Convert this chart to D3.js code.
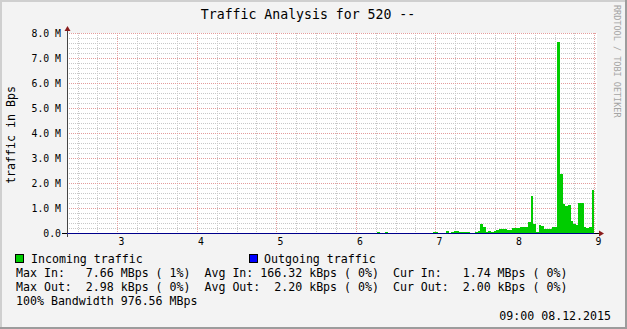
<!DOCTYPE html>
<html lang="en">
<head>
<meta charset="UTF-8">
<title>Traffic Analysis for 520</title>
<script src="https://cdn.jsdelivr.net/npm/d3@7"></script>
<style>
body { margin: 0; background: #f3f3f3; }
svg text { font-family: "DejaVu Sans Mono", monospace; white-space: pre; }
</style>
</head>
<body>
<svg id="chart" width="627" height="329"></svg>
<script>
var width = 627, height = 329
var plot = {left: 67, right: 597, top: 33, bottom: 233}

// x axis: hours of the day
var hourTicks = [3, 4, 5, 6, 7, 8, 9]
var hourLabels = ["3", "4", "5", "6", "7", "8", "9"]

// y axis: traffic in MBps
var yTicks = [0, 1, 2, 3, 4, 5, 6, 7, 8]
var yLabels = ["0.0", "1.0 M", "2.0 M", "3.0 M", "4.0 M", "5.0 M", "6.0 M", "7.0 M", "8.0 M"]

// incoming traffic, MBps, one value per 2 minutes starting 06:14
var inStart = "06:14", inStep = 2
var incoming = [
  0, 0.04, 0, 0, 0.04, 0, 0, 0, 0, 0, 0, 0, 0, 0, 0, 0, 0, 0, 0, 0, 0, 0,
  0.05, 0.05, 0, 0, 0, 0.09, 0, 0.05, 0.1, 0.07, 0.05, 0.05, 0.05, 0.05, 0, 0,
  0.05, 0.08, 0.37, 0.24, 0.05, 0.08, 0.05, 0.09, 0.12, 0.15, 0.15, 0.15, 0.12, 0.12,
  0.21, 0.2, 0.2, 0.23, 0.23, 0.23, 0.43, 1.48, 0.36, 0.05, 0.31, 0.27, 0.15, 0.15,
  0.17, 0.25, 0.23, 7.66, 2.35, 1.15, 1.1, 1.12, 0.5, 0.37, 0.31, 1.19, 1.19, 0.23,
  0.19, 0.25, 1.74
]

// outgoing traffic, kBps, one value per 20 minutes starting 02:20
var outStart = "02:20", outStep = 20
var outgoing = [2.1, 2.3, 2.0, 2.2, 2.4, 2.1, 2.0, 2.2, 2.3, 2.98, 2.1, 2.2, 2.0, 2.4, 2.3, 2.1, 2.2, 2.5, 2.3, 2.0]

var legendLines = [
  "Max In:   7.66 MBps ( 1%)  Avg In: 166.32 kBps ( 0%)  Cur In:   1.74 MBps ( 0%)",
  "Max Out:  2.98 kBps ( 0%)  Avg Out:  2.20 kBps ( 0%)  Cur Out:  2.00 kBps ( 0%)",
  "100% Bandwidth 976.56 MBps"
]

function toHours(s) {
  var p = s.split(":")
  return +p[0] + p[1] / 60
}

var svg = d3.select("#chart")

// frame
svg.append("rect").attr("width", width).attr("height", height).attr("fill", "#f3f3f3")
svg.append("path").attr("d", "M0,329V0H627").attr("fill", "none").attr("stroke", "#cfcfcf").attr("stroke-width", 4)
svg.append("path").attr("d", "M0,329H627V0").attr("fill", "none").attr("stroke", "#9c9c9c").attr("stroke-width", 4)

var x = d3.scaleLinear()
  .domain([2 + 22 / 60, 9 + 2 / 60])
  .range([plot.left, plot.right])

var y = d3.scaleLinear()
  .domain([0, 8])
  .range([plot.bottom, plot.top])

svg.append("rect")
  .attr("x", plot.left).attr("y", plot.top)
  .attr("width", plot.right - plot.left).attr("height", plot.bottom - plot.top)
  .attr("fill", "#ffffff")

// grid
var minorX = d3.range(2.5, 9.03, 0.25).filter(function(d) { return d % 1 != 0 })
var minorY = d3.range(0.2, 8, 0.2).filter(function(d) { return Math.abs(d - Math.round(d)) > 0.01 })

var grid = svg.append("g").attr("shape-rendering", "crispEdges")
grid.selectAll(".vmin").data(minorX).enter().append("line")
  .attr("x1", function(d) { return Math.round(x(d)) + 0.5 })
  .attr("x2", function(d) { return Math.round(x(d)) + 0.5 })
  .attr("y1", plot.top).attr("y2", plot.bottom)
  .attr("stroke", "#c8c8c8").attr("stroke-dasharray", "1,1")
grid.selectAll(".hmin").data(minorY).enter().append("line")
  .attr("y1", function(d) { return Math.round(y(d)) + 0.5 })
  .attr("y2", function(d) { return Math.round(y(d)) + 0.5 })
  .attr("x1", plot.left).attr("x2", plot.right)
  .attr("stroke", "#c8c8c8").attr("stroke-dasharray", "1,1")
grid.selectAll(".vmaj").data(hourTicks).enter().append("line")
  .attr("x1", function(d) { return Math.round(x(d)) + 0.5 })
  .attr("x2", function(d) { return Math.round(x(d)) + 0.5 })
  .attr("y1", plot.top).attr("y2", plot.bottom)
  .attr("stroke", "#e49c9c").attr("stroke-dasharray", "1,1")
grid.selectAll(".hmaj").data(yTicks.slice(1)).enter().append("line")
  .attr("y1", function(d) { return Math.round(y(d)) + 0.5 })
  .attr("y2", function(d) { return Math.round(y(d)) + 0.5 })
  .attr("x1", plot.left).attr("x2", plot.right)
  .attr("stroke", "#e49c9c").attr("stroke-dasharray", "1,1")

// incoming as a stepped area
var t0 = toHours(inStart)
var inPts = incoming.map(function(v, i) { return {t: t0 + i * inStep / 60, v: v} })
inPts.push({t: t0 + incoming.length * inStep / 60, v: incoming[incoming.length - 1]})

var area = d3.area()
  .curve(d3.curveStepAfter)
  .x(function(d) { return x(d.t) })
  .y0(y(0))
  .y1(function(d) { return y(d.v) })

svg.append("path")
  .datum(inPts)
  .attr("d", area)
  .attr("fill", "#00cc00")
  .attr("shape-rendering", "crispEdges")

// axes
svg.append("line")
  .attr("x1", plot.left - 5).attr("x2", plot.right + 3)
  .attr("y1", plot.bottom + 0.5).attr("y2", plot.bottom + 0.5)
  .attr("stroke", "#000")
svg.append("line")
  .attr("x1", plot.left + 0.5).attr("x2", plot.left + 0.5)
  .attr("y1", plot.bottom + 4).attr("y2", plot.top - 4)
  .attr("stroke", "#444")

// outgoing as a line (sits on the baseline)
var o0 = toHours(outStart)
var outPts = outgoing.map(function(v, i) { return {t: o0 + i * outStep / 60, v: v / 1000} })
outPts.push({t: o0 + outgoing.length * outStep / 60, v: outgoing[outgoing.length - 1] / 1000})

svg.append("clipPath").attr("id", "clip")
  .append("rect").attr("x", plot.left).attr("y", plot.top - 1)
  .attr("width", x(9) - plot.left + 1).attr("height", plot.bottom - plot.top + 2)

svg.append("path")
  .datum(outPts)
  .attr("clip-path", "url(#clip)")
  .attr("d", d3.line().curve(d3.curveStepAfter)
    .x(function(d) { return x(d.t) })
    .y(function(d) { return Math.round(y(d.v)) + 0.5 }))
  .attr("fill", "none")
  .attr("stroke", "#0000ff")
  .attr("stroke-opacity", 0.55)

// arrows
svg.append("path")
  .attr("d", "M" + (plot.left - 2.5) + "," + (plot.top - 2) + "L" + (plot.left + 3.5) + "," + (plot.top - 2) + "L" + (plot.left + 0.5) + "," + (plot.top - 7) + "Z")
  .attr("fill", "#8a1c1c")
svg.append("path")
  .attr("d", "M" + (plot.right + 2) + "," + (plot.bottom - 2.5) + "L" + (plot.right + 2) + "," + (plot.bottom + 3.5) + "L" + (plot.right + 7) + "," + (plot.bottom + 0.5) + "Z")
  .attr("fill", "#8a1c1c")

// tick labels
svg.selectAll(".ylab").data(yTicks).enter().append("text")
  .attr("x", plot.left - 6)
  .attr("y", function(d) { return y(d) + 3.5 })
  .attr("text-anchor", "end")
  .attr("font-size", "9.8px")
  .attr("fill", "#000")
  .text(function(d, i) { return yLabels[i] })

svg.selectAll(".xlab").data(hourTicks).enter().append("text")
  .attr("x", function(d) { return x(d) + 4 })
  .attr("y", plot.bottom + 12)
  .attr("text-anchor", "middle")
  .attr("font-size", "9.8px")
  .attr("fill", "#000")
  .text(function(d, i) { return hourLabels[i] })

// titles
svg.append("text")
  .attr("x", 308).attr("y", 18.5)
  .attr("text-anchor", "middle")
  .attr("font-size", "13.2px")
  .text("Traffic Analysis for 520 --")

svg.append("text")
  .attr("transform", "translate(15,135) rotate(-90)")
  .attr("text-anchor", "middle")
  .attr("font-size", "11.6px")
  .text("traffic in Bps")

svg.append("text")
  .attr("transform", "translate(614,5) rotate(90)")
  .attr("font-size", "8.5px")
  .attr("fill", "#a4a4a4")
  .text("RRDTOOL / TOBI OETIKER")

// legend
var leg = svg.append("g").attr("font-size", "11.6px")
leg.append("rect").attr("x", 15.5).attr("y", 254.5).attr("width", 8).attr("height", 8)
  .attr("fill", "#00cc00").attr("stroke", "#000")
leg.append("text").attr("x", 31).attr("y", 263).text("Incoming traffic")
leg.append("rect").attr("x", 249.5).attr("y", 254.5).attr("width", 8).attr("height", 8)
  .attr("fill", "#0000ff").attr("stroke", "#000")
leg.append("text").attr("x", 264).attr("y", 263).text("Outgoing traffic")

leg.selectAll(".stat").data(legendLines).enter().append("text")
  .attr("x", 16)
  .attr("y", function(d, i) { return 277 + i * 14 })
  .text(function(d) { return d })

leg.append("text").attr("x", 611).attr("y", 320).attr("text-anchor", "end").text("09:00 08.12.2015")
</script>
</body>
</html>
